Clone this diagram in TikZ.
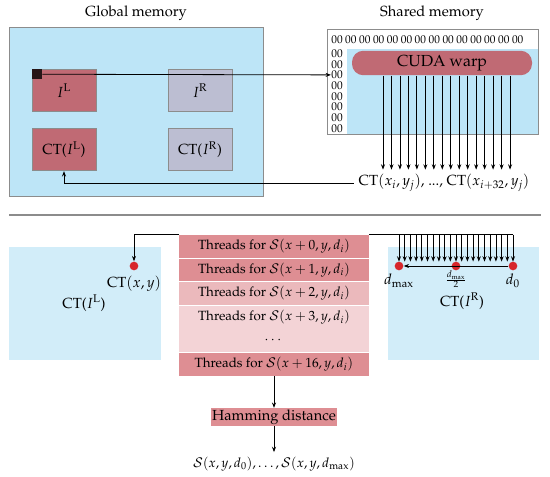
\documentclass[tikz,border=0pt]{standalone}
\usepackage[T1]{fontenc}
\usepackage{mathpazo}
\usepackage{amsmath}
\usetikzlibrary{positioning, arrows.meta}
\definecolor{gmblue}{HTML}{BDE5F7}
\definecolor{ctblue}{HTML}{D2EDF9}
\definecolor{rosedark}{HTML}{C06A74}
\definecolor{greybox}{HTML}{BCBED2}
\definecolor{threadA}{HTML}{DE8E93}
\definecolor{threadB}{HTML}{EBB9BC}
\definecolor{threadC}{HTML}{F3D3D6}
\definecolor{dotred}{HTML}{D7262B}
\definecolor{edgegrey}{HTML}{8C8C8C}
\tikzset{
    >={Stealth[length=4pt,width=3pt]}, % small arrowheads
    membox/.style={draw=edgegrey, line width=0.5pt, minimum width=48pt, minimum height=32pt, inner sep=0pt, font=\fontsize{11}{13}\selectfont},
    leftimg/.style={membox, fill=rosedark},
    rightimg/.style={membox, fill=greybox},
    zz/.style={inner sep=0pt, font=\fontsize{8.5}{10}\selectfont}, % the 00 cells
    threadrow/.style={minimum width=142.5pt, minimum height=17.1pt, inner sep=0pt},
    reddot/.style={circle, fill=dotred, minimum size=6.5pt, inner sep=0pt},
    title/.style={font=\fontsize{11}{13}\selectfont},
}
\begin{document}
\begin{tikzpicture}[x=0.75pt, y=-0.75pt, semithick]
    \useasboundingbox (0,0) rectangle (550,477);

    % Global memory
    \node (gmtitle) [title] at (136,13) {Global memory};
    \fill[gmblue, draw=edgegrey, line width=0.6pt] (9,27) rectangle (263,196);
    \node (IL)  [leftimg]  at (64,90.5)  {$I^{\mathrm{L}}$};
    \node (IR)  [rightimg] at (200,90.5) {$I^{\mathrm{R}}$};
    \node (CTL) [leftimg]  at (64,149.5) {CT($I^{\mathrm{L}}$)};
    \node (CTR) [rightimg] at (200,149.5) {CT($I^{\mathrm{R}}$)};
    \node (pix) [anchor=north west, fill=black!80!rosedark, minimum size=7.5pt, inner sep=0pt] at (IL.north west) {};

    % Shared memory
    \node (smtitle) [title] at (432,13) {Shared memory};
    \draw[edgegrey, line width=0.6pt, fill=white] (327,29) rectangle (538,134);
    \fill[gmblue] (347,49) rectangle (537.6,133.6);
    \foreach \k in {0,...,13}
        \node (t\k) [zz] at (337+13.9*\k,40) {00};
    \foreach \k in {0,...,7}
        \node (z\k) [zz] at (337,53.5+10.7*\k) {00};
    \node (warp) [fill=rosedark, rounded corners=8.5pt, minimum width=135pt, minimum height=18pt,
        font=\fontsize{12}{14}\selectfont] at (442,63) {CUDA warp};
    \node (ctrow) [font=\fontsize{11}{13}\selectfont] at (444,183) {CT$(x_i,y_j)$, ..., CT$(x_{i+32},y_j)$};

    % Warp threads
    \foreach \i in {0,...,15}
        \draw[->] (warp.south) ++(-59+\i*8.47,0) -- ++(0,94);

    % Transfers
    \path[->] (pix.east) edge (z2.west);
    \draw[->] (ctrow.west) -| (CTL.south);

    % Separator
    \draw[edgegrey, line width=0.8pt] (9,215) -- (541,215);

    % Census tables in the lower half
    \fill[ctblue] (9,247) rectangle (161,360);
    \fill[ctblue] (388,247) rectangle (539,360);
    \node (ctl2) [font=\fontsize{11}{13}\selectfont] at (84,303) {CT($I^{\mathrm{L}}$)};
    \node (ctr2) [font=\fontsize{11}{13}\selectfont] at (462,301) {CT($I^{\mathrm{R}}$)};

    % Thread stack
    \node (row0) [threadrow, fill=threadA] at (274,246.4) {Threads for $\mathcal{S}(x+0,y,d_i)$};
    \node (row1) [threadrow, fill=threadA, below=0pt of row0] {Threads for $\mathcal{S}(x+1,y,d_i)$};
    \node (row2) [threadrow, fill=threadB, below=0pt of row1] {Threads for $\mathcal{S}(x+2,y,d_i)$};
    \node (row3) [threadrow, fill=threadC, below=0pt of row2] {Threads for $\mathcal{S}(x+3,y,d_i)$};
    \node (row4) [threadrow, fill=threadC, below=0pt of row3] {$\cdots$};
    \node (row5) [threadrow, fill=threadA, below=0pt of row4] {Threads for $\mathcal{S}(x+16,y,d_i)$};

    % Left pixel
    \node (pxl) [reddot] at (134,266) {};
    \node (ctxy) [font=\fontsize{11}{13}\selectfont, below=0pt of pxl] {CT$(x,y)$};
    \draw[->] (row0.north west) -| (pxl.north);

    % Disparity range
    \node (dmax) [reddot] at (399,266) {};
    \node (dmid) [reddot] at (456,266) {};
    \node (dzero) [reddot] at (513,266) {};
    \node [below=-1pt of dmax, font=\fontsize{11}{13}\selectfont] {$d_{\max}$};
    \node [below=-1pt of dmid, font=\small, inner sep=1pt] {$\frac{d_{\max}}{2}$};
    \node [below=-1pt of dzero, font=\fontsize{11}{13}\selectfont] {$d_0$};
    \draw (row0.north east) -- (dzero.center |- row0.north);
    \foreach \i in {0,...,20}
        \draw[->] (dmax.center |- row0.north) ++(\i*5.7,0) -- ++(0,27);
    \draw[->] (dzero) -- (dmax);

    % Cost
    \node (ham) [fill=threadA, minimum width=91.5pt, minimum height=12pt, inner sep=1pt,
        font=\fontsize{11}{13}\selectfont] at (274,417) {Hamming distance};
    \node (out) at (274,464) {$\mathcal{S}(x,y,d_0),\ldots,\mathcal{S}(x,y,d_{\max})$};
    \path[->] (row5.south) edge (ham.north)
              (ham.south) edge (out.north);
\end{tikzpicture}
\end{document}
